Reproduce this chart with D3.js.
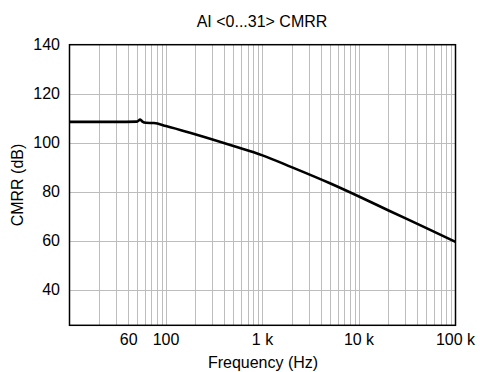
<!DOCTYPE html>
<html>
<head>
<meta charset="utf-8">
<script src="https://cdn.jsdelivr.net/npm/d3@7"></script>
<style>
  body { margin: 0; background: #fff; }
  svg { display: block; font-family: "Liberation Sans", Arial, sans-serif; }
</style>
</head>
<body>
<div id="chart"></div>
<script>
// CMRR vs frequency
const freqs = [10, 30, 50, 54, 57, 62, 75, 100, 200, 500, 1000, 2000, 5000, 10000, 20000, 50000, 100000];
const cmrr  = [108.5, 108.5, 108.6, 109.4, 108.6, 108.1, 108.0, 106.8, 103.4, 98.6, 94.8, 90.0, 83.4, 78.0, 72.4, 65.1, 59.5];

const yTicks = [40, 60, 80, 100, 120, 140];
// the "60" label sits left of its gridline in the original
const xLabelAt = [41, 100, 1000, 10000, 100000];
const xLabelText = ['60', '100', '1 k', '10 k', '100 k'];

const width = 480;
const height = 372;

const x = d3.scaleLog().domain([10, 100000]).range([69.5, 455.5]);
const y = d3.scaleLinear().domain([25.4, 140]).range([325.3, 44.7]);

const svg = d3
  .select('#chart')
  .append('svg')
  .attr('width', width)
  .attr('height', height);

// grid
const grid = svg.append('g').attr('stroke', '#bdbdbd').attr('stroke-width', 1);

grid
  .selectAll('line.vx')
  .data(x.ticks().filter(d => d > 10 && d < 100000))
  .join('line')
  .attr('class', 'vx')
  .attr('x1', d => Math.round(x(d)) + 0.5)
  .attr('x2', d => Math.round(x(d)) + 0.5)
  .attr('y1', y.range()[0])
  .attr('y2', y.range()[1]);

grid
  .selectAll('line.hy')
  .data(yTicks.filter(d => d < 140))
  .join('line')
  .attr('class', 'hy')
  .attr('x1', x.range()[0])
  .attr('x2', x.range()[1])
  .attr('y1', d => Math.round(y(d)) + 0.5)
  .attr('y2', d => Math.round(y(d)) + 0.5);

// curve
const line = d3
  .line()
  .x((d, i) => x(freqs[i]))
  .y(d => y(d))
  .curve(d3.curveMonotoneX);

svg
  .append('path')
  .datum(cmrr)
  .attr('fill', 'none')
  .attr('stroke', '#000')
  .attr('stroke-width', 2.6)
  .attr('stroke-linejoin', 'round')
  .attr('d', line);

// frame
svg
  .append('rect')
  .attr('x', x.range()[0])
  .attr('y', y.range()[1])
  .attr('width', x.range()[1] - x.range()[0])
  .attr('height', y.range()[0] - y.range()[1])
  .attr('fill', 'none')
  .attr('stroke', '#000')
  .attr('stroke-width', 1.5);

// y tick labels
svg
  .append('g')
  .attr('text-anchor', 'end')
  .attr('font-size', 16)
  .selectAll('text')
  .data(yTicks)
  .join('text')
  .attr('x', 60)
  .attr('y', d => y(d))
  .attr('dy', '0.35em')
  .text(d => d);

// x tick labels
svg
  .append('g')
  .attr('text-anchor', 'middle')
  .attr('font-size', 16)
  .selectAll('text')
  .data(xLabelAt)
  .join('text')
  .attr('x', d => x(d))
  .attr('y', 345)
  .text((d, i) => xLabelText[i]);

// titles
svg
  .append('text')
  .attr('x', 262)
  .attr('y', 27)
  .attr('text-anchor', 'middle')
  .attr('font-size', 16)
  .text('AI <0...31> CMRR');

svg
  .append('text')
  .attr('x', 263)
  .attr('y', 368)
  .attr('text-anchor', 'middle')
  .attr('font-size', 16)
  .text('Frequency (Hz)');

svg
  .append('text')
  .attr('transform', 'translate(23,185) rotate(-90)')
  .attr('text-anchor', 'middle')
  .attr('font-size', 16)
  .text('CMRR (dB)');
</script>
</body>
</html>
